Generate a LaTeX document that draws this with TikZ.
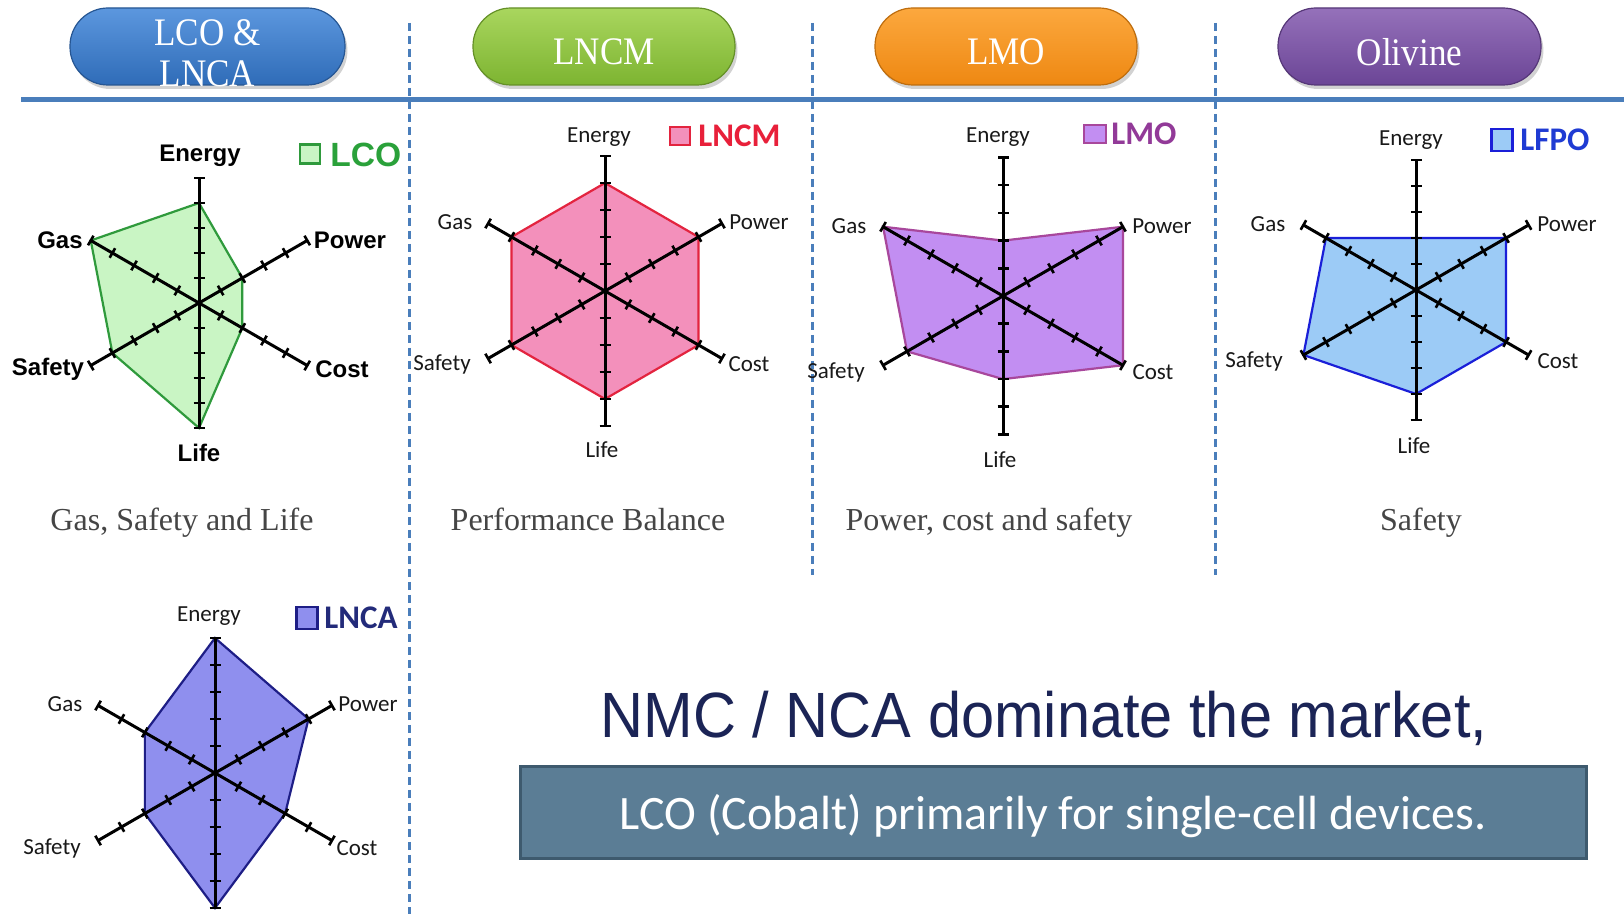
\documentclass[tikz,border=0pt]{standalone}
\usepackage{fontspec}
\setmainfont{Liberation Serif}
\newfontfamily\arialfont{Liberation Sans}
\newfontfamily\califont{Carlito}
\newfontfamily\hdrfont[FakeStretch=0.9]{Liberation Serif}
\newfontfamily\bigfont[FakeStretch=0.93]{Liberation Sans}
\usetikzlibrary{shadows}
\definecolor{rulecol}{HTML}{4A7EBB}
\definecolor{lcofill}{HTML}{C9F5C4}\definecolor{lcoline}{HTML}{2F9A3C}\definecolor{lcotext}{HTML}{2AA13A}
\definecolor{lncmfill}{HTML}{F390BB}\definecolor{lncmline}{HTML}{E3243F}\definecolor{lncmtext}{HTML}{E8203A}
\definecolor{lmofill}{HTML}{C28EF2}\definecolor{lmoline}{HTML}{A8479C}\definecolor{lmotext}{HTML}{923A98}
\definecolor{lfpofill}{HTML}{9CCBF6}\definecolor{lfpoline}{HTML}{1A1FD8}\definecolor{lfpotext}{HTML}{1F3BD3}
\definecolor{lncafill}{HTML}{8F8FEE}\definecolor{lncaline}{HTML}{1E1E86}\definecolor{lncatext}{HTML}{232B7A}
\definecolor{capcol}{HTML}{454545}
\definecolor{msgcol}{HTML}{1B2456}
\definecolor{boxfill}{HTML}{5B7D95}\definecolor{boxline}{HTML}{3E5A6E}
\definecolor{pbtop}{HTML}{5C97DE}\definecolor{pbbot}{HTML}{2F6CB8}
\definecolor{pgtop}{HTML}{A9D65E}\definecolor{pgbot}{HTML}{7DB431}
\definecolor{potop}{HTML}{FCA83E}\definecolor{pobot}{HTML}{EE8812}
\definecolor{pptop}{HTML}{9571BA}\definecolor{ppbot}{HTML}{6B4596}
\newcommand\radarplot[4]{%
  \foreach \v/\ang [count=\i] in {#3}
    \coordinate (#1p\i) at ({\v*#2*cos(\ang)},{\v*#2*sin(\ang)});
  \path[#4] (#1p1)--(#1p2)--(#1p3)--(#1p4)--(#1p5)--(#1p6)--cycle;
  \foreach \ang in {-90,-30,30,90,150,210}{
    \draw[axisline] (0,0) -- ({5*#2*cos(\ang)},{5*#2*sin(\ang)});
    \foreach \k in {1,...,5}
      \draw[tickline] ({\k*#2*cos(\ang)-5.5*sin(\ang)},{\k*#2*sin(\ang)+5.5*cos(\ang)})
        -- ({\k*#2*cos(\ang)+5.5*sin(\ang)},{\k*#2*sin(\ang)-5.5*cos(\ang)});
  }
}
\tikzset{
  axisline/.style={black, line width=1.5pt},
  tickline/.style={black, line width=1.3pt},
  pillbox/.style n args={3}{rounded corners=19pt, minimum height=38.5pt, minimum width=#1,
     top color=#2, bottom color=#3, draw=#3!80!black, line width=0.6pt, inner sep=0pt,
     drop shadow={opacity=0.35, shadow xshift=1.2pt, shadow yshift=-2pt}},
  pilltext/.style={text=white, font=\hdrfont\fontsize{19.5}{21}\selectfont, align=center, inner sep=0pt},
  lblA/.style={font=\arialfont\bfseries\fontsize{12}{14}\selectfont, text=black, inner sep=0pt},
  lblC/.style={font=\califont\fontsize{11.5}{13}\selectfont, text=black!90, inner sep=0pt},
  legA/.style={anchor=west, inner sep=0pt, font=\arialfont\bfseries\fontsize{16.8}{18}\selectfont},
  legC/.style={anchor=west, inner sep=0pt, font=\califont\bfseries\fontsize{16.5}{18}\selectfont},
  legsq/.style={line width=1.2pt, inner sep=0pt},
  caption/.style={anchor=base, font=\fontsize{16}{18}\selectfont, text=capcol, inner sep=0pt},
  vdash/.style={rulecol, line width=1.5pt, dash pattern=on 4pt off 2.5pt},
}
\begin{document}
\begin{tikzpicture}[x=0.5pt,y=-0.5pt]
\useasboundingbox (0,0) rectangle (1624,914);
\fill[white] (0,0) rectangle (1624,914);

% header pills
\node[pillbox={137.5pt}{pbtop}{pbbot}] (pill1) at (207.5,46.5) {};
\node[pillbox={131pt}{pgtop}{pgbot}] (pill2) at (604,46.5) {};
\node[pillbox={131pt}{potop}{pobot}] (pill3) at (1006,46.5) {};
\node[pillbox={131.5pt}{pptop}{ppbot}] (pill4) at (1409.5,46.5) {};
\node[pilltext] (pill1t) at (207.5,53) {LCO \&\\[-0.5pt]LNCA};
\node[pilltext] (pill2t) at (604,52) {LNCM};
\node[pilltext] (pill3t) at (1006,52) {LMO};
\node[pilltext] (pill4t) at (1409.5,52) {Olivine};

% rules
\draw[rulecol, line width=2.5pt] (21,100) -- (1624,100);
\draw[vdash] (409,23) -- (409,914);
\draw[vdash] (812,23) -- (812,575);
\draw[vdash] (1215,23) -- (1215,575);

% LCO
\begin{scope}[shift={(199,303)}]
\radarplot{lco}{25}{4/-90,2/-30,2/30,5/90,4/150,5/210}{fill=lcofill,draw=lcoline,line width=1.1pt}
\end{scope}
\node[lblA] (lcoE) at (200,156) {Energy};
\node[lblA] (lcoP) at (350,240) {Power};
\node[lblA] (lcoC) at (342,369) {Cost};
\node[lblA] (lcoL) at (199,453) {Life};
\node[lblA] (lcoS) at (48,369) {Safety};
\node[lblA] (lcoG) at (60,240) {Gas};
\node[legsq, fill=lcofill, draw=lcoline, minimum width=10pt, minimum height=9.5pt] (lcosq) at (310,154) {};
\node[legA, text=lcotext] (lcolg) at (330,155) {LCO};
\node[caption] (cap1) at (182,531) {Gas, Safety and Life};

% LNCM
\begin{scope}[shift={(605,291)}]
\radarplot{lncm}{27}{4/-90,4/-30,4/30,4/90,4/150,4/210}{fill=lncmfill,draw=lncmline,line width=1.1pt}
\end{scope}
\node[lblC] (lncmE) at (599,137) {Energy};
\node[lblC] (lncmP) at (759,222) {Power};
\node[lblC] (lncmC) at (749,364) {Cost};
\node[lblC] (lncmL) at (602,450) {Life};
\node[lblC] (lncmS) at (442,364) {Safety};
\node[lblC] (lncmG) at (455,222) {Gas};
\node[legsq, fill=lncmfill, draw=lncmline, minimum width=10pt, minimum height=9pt] (lncmsq) at (680,136) {};
\node[legC, text=lncmtext] (lncmlg) at (698,136) {LNCM};
\node[caption] (cap2) at (588,531) {Performance Balance};

% LMO
\begin{scope}[shift={(1003,296)}]
\radarplot{lmo}{27.7}{2/-90,5/-30,5/30,3/90,4/150,5/210}{fill=lmofill,draw=lmoline,line width=1.1pt}
\end{scope}
\node[lblC] (lmoE) at (998,137) {Energy};
\node[lblC] (lmoP) at (1162,226) {Power};
\node[lblC] (lmoC) at (1153,372) {Cost};
\node[lblC] (lmoL) at (1000,460) {Life};
\node[lblC] (lmoS) at (836,372) {Safety};
\node[lblC] (lmoG) at (849,226) {Gas};
\node[legsq, fill=lmofill, draw=lmoline, minimum width=11pt, minimum height=9pt] (lmosq) at (1095,134) {};
\node[legC, text=lmotext] (lmolg) at (1111,134) {LMO};
\node[caption] (cap3) at (989,531) {Power, cost and safety};

% LFPO
\begin{scope}[shift={(1416,290)}]
\radarplot{lfpo}{26}{2/-90,4/-30,4/30,4/90,5/150,4/210}{fill=lfpofill,draw=lfpoline,line width=1.1pt}
\end{scope}
\node[lblC] (lfpoE) at (1411,140) {Energy};
\node[lblC] (lfpoP) at (1567,224) {Power};
\node[lblC] (lfpoC) at (1558,361) {Cost};
\node[lblC] (lfpoL) at (1414,446) {Life};
\node[lblC] (lfpoS) at (1254,361) {Safety};
\node[lblC] (lfpoG) at (1268,224) {Gas};
\node[legsq, fill=lfpofill, draw=lfpoline, minimum width=10.5pt, minimum height=11pt] (lfposq) at (1502,140) {};
\node[legC, text=lfpotext] (lfpolg) at (1520,140) {LFPO};
\node[caption] (cap4) at (1421,531) {Safety};

% LNCA
\begin{scope}[shift={(215,773)}]
\radarplot{lnca}{27}{5/-90,4/-30,3/30,5/90,3/150,3/210}{fill=lncafill,draw=lncaline,line width=1.1pt}
\end{scope}
\node[lblC] (lncaE) at (209,616) {Energy};
\node[lblC] (lncaP) at (368,704) {Power};
\node[lblC] (lncaC) at (357,848) {Cost};
\node[lblC] (lncaS) at (52,848) {Safety};
\node[lblC] (lncaG) at (65,704) {Gas};
\node[legsq, fill=lncafill, draw=lncaline, minimum width=10.5pt, minimum height=11pt] (lncasq) at (307,618) {};
\node[legC, text=lncatext] (lncalg) at (324,618) {LNCA};

% message
\node[anchor=base, font=\bigfont\fontsize{32}{36}\selectfont, text=msgcol, inner sep=0pt] (msg) at (1044,738) {NMC / NCA dominate the market,};
\node[fill=boxfill, draw=boxline, line width=1.5pt, minimum width=533pt, minimum height=46pt, inner sep=0pt] (box) at (1053,812) {};
\node[anchor=base, text=white, inner sep=0pt, font=\califont\fontsize{24}{28}\selectfont] (boxt) at (1053,829) {LCO (Cobalt) primarily for single-cell devices.};
\end{tikzpicture}
\end{document}
